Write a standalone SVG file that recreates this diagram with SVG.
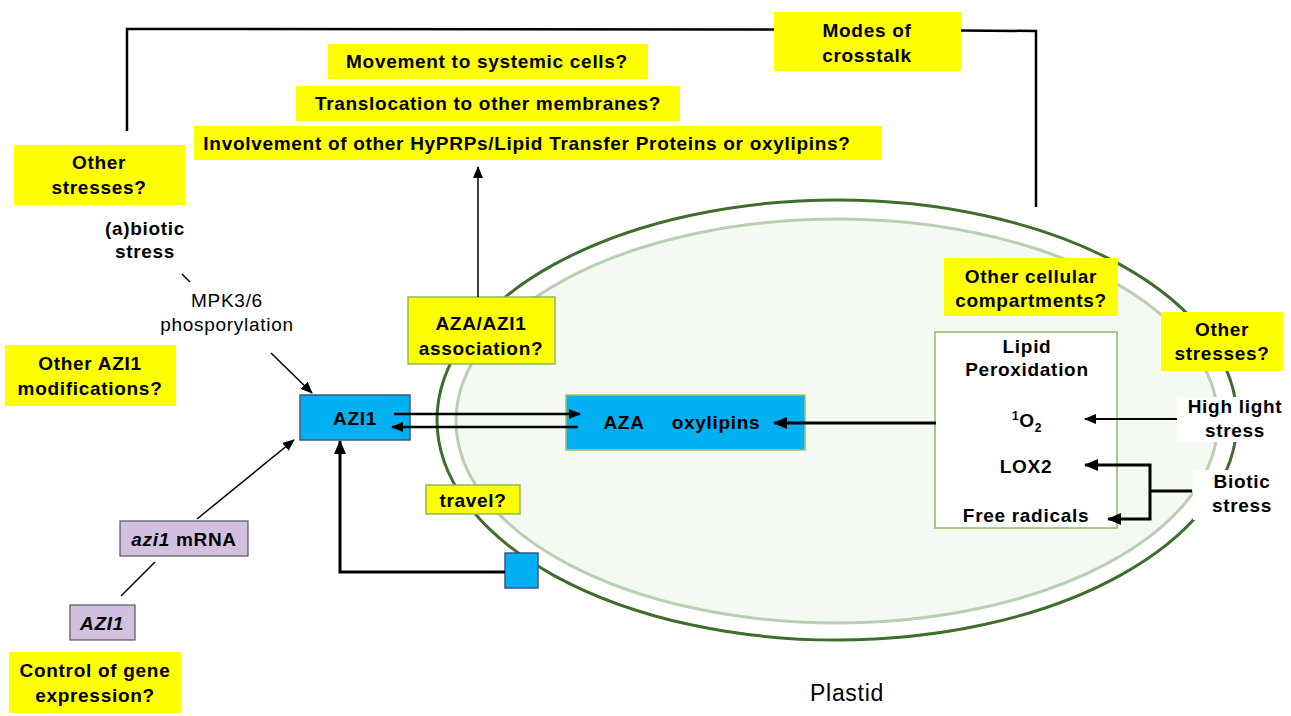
<svg xmlns="http://www.w3.org/2000/svg" width="1291" height="716" viewBox="0 0 1291 716">
<style>
text{font-family:"Liberation Sans",Arial,sans-serif;font-weight:bold;font-size:19px;letter-spacing:0.7px;fill:#000;text-anchor:middle}
.n{font-weight:normal}
.yl{fill:#ffff00}
.yg{fill:#ffff00;stroke:#8dba5a;stroke-width:1.5}
.bl{fill:#00b0f0;stroke:#3b5a86;stroke-width:1.5}
.bg{fill:#00b0f0;stroke:#9cc56a;stroke-width:1.5}
.lv{fill:#d3bfe0;stroke:#555;stroke-width:1.2}
.wh{fill:#fff}
.c{fill:none;stroke:#000}
</style>
<defs>
<marker id="a" markerUnits="userSpaceOnUse" markerWidth="12" markerHeight="10" refX="11" refY="5" orient="auto"><path d="M0,0 L12,5 L0,10 Z" fill="#000"/></marker>
<marker id="b" markerUnits="userSpaceOnUse" markerWidth="14" markerHeight="12" refX="13" refY="6" orient="auto-start-reverse"><path d="M0,0 L14,6 L0,12 Z" fill="#000"/></marker>
</defs>
<g id="plastid">
<ellipse cx="837" cy="420" rx="400" ry="220" fill="#fff" stroke="#3d6e2c" stroke-width="3"/>
<ellipse cx="837" cy="421" rx="381" ry="202" fill="#f4f9f1" stroke="#b8cfb2" stroke-width="3"/>
<text class="n" x="847" y="701" style="font-size:23px">Plastid</text>
</g>
<g id="modes"><rect class="yl" x="774" y="12" width="187" height="59"/><text x="867" y="37">Modes of</text><text x="867" y="62">crosstalk</text></g>
<g id="movement"><rect class="yl" x="328" y="44" width="320" height="35"/><text x="487" y="68">Movement to systemic cells?</text></g>
<g id="translocation"><rect class="yl" x="296" y="86" width="384" height="35"/><text x="488" y="110">Translocation to other membranes?</text></g>
<g id="involvement"><rect class="yl" x="194" y="126" width="688" height="34"/><text x="527" y="150">Involvement of other HyPRPs/Lipid Transfer Proteins or oxylipins?</text></g>
<g id="otherstressesL"><rect class="yl" x="14" y="145" width="171" height="60"/><text x="99" y="169">Other</text><text x="99" y="194">stresses?</text></g>
<g id="abiotic"><text x="145" y="235">(a)biotic</text><text x="145" y="258">stress</text></g>
<g id="mpk"><text class="n" x="227" y="307">MPK3/6</text><text class="n" x="227" y="331">phosporylation</text></g>
<g id="otherazi1"><rect class="yl" x="5" y="345" width="171" height="61"/><text x="90" y="370">Other AZI1</text><text x="90" y="395">modifications?</text></g>
<g id="azi1"><rect class="bl" x="300" y="395" width="110" height="45"/><text x="355" y="425">AZI1</text></g>
<g id="association"><rect class="yg" x="408" y="297" width="147" height="67"/><text x="481" y="330">AZA/AZI1</text><text x="481" y="355">association?</text></g>
<g id="aza"><rect class="bg" x="566" y="395" width="239" height="55"/><text x="624" y="429">AZA</text><text x="716" y="429">oxylipins</text></g>
<g id="travel"><rect class="yg" x="426" y="485" width="94" height="29"/><text x="473" y="507">travel?</text></g>
<g id="square"><rect class="bl" x="505" y="553" width="33" height="35"/></g>
<g id="mrna"><rect class="lv" x="120" y="521" width="128" height="35"/><text x="184" y="546"><tspan font-style="italic">azi1</tspan> mRNA</text></g>
<g id="gene"><rect class="lv" x="70" y="605" width="65" height="35"/><text x="102" y="630" font-style="italic">AZI1</text></g>
<g id="control"><rect class="yl" x="9" y="652" width="172" height="61"/><text x="95" y="677">Control of gene</text><text x="95" y="702">expression?</text></g>
<g id="compartments"><rect class="yl" x="944" y="258" width="174" height="58"/><text x="1031" y="283">Other cellular</text><text x="1031" y="307">compartments?</text></g>
<g id="lipid"><rect x="935" y="332" width="182" height="196" fill="#fff" stroke="#8dba6a" stroke-width="1.5"/>
<text x="1027" y="353">Lipid</text><text x="1027" y="376">Peroxidation</text>
<text x="1027" y="427"><tspan font-size="12" dy="-7">1</tspan><tspan dy="7">O</tspan><tspan font-size="12" dy="5">2</tspan></text>
<text x="1026" y="473">LOX2</text><text x="1026" y="522">Free radicals</text></g>
<g id="otherstressesR"><rect class="yl" x="1161" y="312" width="122" height="59"/><text x="1222" y="336">Other</text><text x="1222" y="360">stresses?</text></g>
<g id="highlight"><rect class="wh" x="1177" y="397" width="106" height="45"/><text x="1235" y="413">High light</text><text x="1235" y="437">stress</text></g>
<g id="biotic"><rect class="wh" x="1193" y="470" width="92" height="50"/><text x="1242" y="488">Biotic</text><text x="1242" y="512">stress</text></g>
<g id="connectors">
<polyline class="c" stroke-width="2.5" points="127,131 127,29 774,29.5"/>
<polyline class="c" stroke-width="2.5" points="961,30.5 1036,31 1036,207"/>
<line class="c" stroke-width="1.5" x1="478" y1="297" x2="478" y2="167" marker-end="url(#a)"/>
<line class="c" stroke-width="1.5" x1="182" y1="274" x2="190" y2="282"/>
<line class="c" stroke-width="1.5" x1="271" y1="353" x2="312" y2="393" marker-end="url(#a)"/>
<line class="c" stroke-width="2.5" x1="394" y1="414" x2="580" y2="414" marker-end="url(#a)"/>
<line class="c" stroke-width="2.5" x1="578" y1="427" x2="392" y2="427" marker-end="url(#a)"/>
<line class="c" stroke-width="3" x1="936" y1="423" x2="774" y2="423" marker-end="url(#b)"/>
<polyline class="c" stroke-width="3" points="505,572 340,572 340,441" marker-end="url(#b)"/>
<line class="c" stroke-width="1.5" x1="197" y1="519" x2="294" y2="440" marker-end="url(#a)"/>
<line class="c" stroke-width="1.5" x1="155" y1="562" x2="121" y2="596"/>
<line class="c" stroke-width="2" x1="1177" y1="419" x2="1085" y2="419" marker-end="url(#a)"/>
<line class="c" stroke-width="3" x1="1192" y1="491" x2="1150" y2="491"/>
<polyline class="c" stroke-width="3" points="1085,465 1150,465 1150,519 1108,519" marker-start="url(#b)" marker-end="url(#b)"/>
</g>
</svg>
